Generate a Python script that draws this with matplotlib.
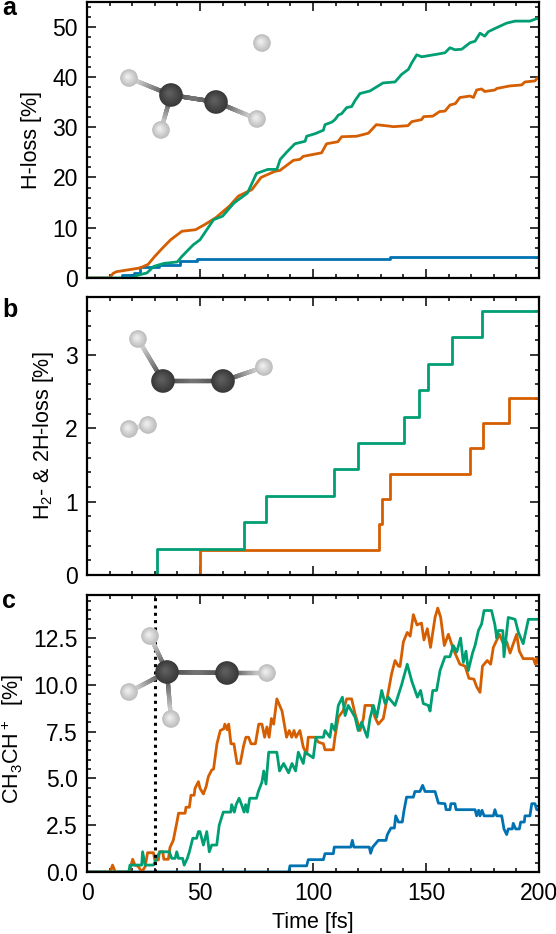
import numpy as np
from matplotlib import pyplot as plt
from matplotlib.collections import LineCollection
from matplotlib.patches import Circle
from matplotlib.ticker import MultipleLocator

plt.rcParams['font.family'] = ['Liberation Sans', 'DejaVu Sans']
plt.rcParams['mathtext.fontset'] = 'custom'
plt.rcParams['mathtext.rm'] = 'Liberation Sans'
plt.rcParams['mathtext.default'] = 'regular'

BLUE = '#0072B2'
ORANGE = '#D55E00'
GREEN = '#009E73'

# panel a: H-loss
a_blue_t = [0, 15.5, 21, 23.6, 32, 41, 48.7, 134, 200]
a_blue_v = [0, 0.5, 1, 2.1, 2.5, 3.3, 3.8, 4.1, 4.1]
a_orange_t = [0, 10, 11.5, 13, 23.5, 27, 30, 33.5, 37, 42, 48, 52, 57, 63, 67, 73, 77, 83, 85.4, 91.3, 94.2, 95.7, 103.8, 106,
              111, 112.7, 119.3, 124.5, 128, 134, 135.5, 142, 143.7, 148, 149, 153, 156, 158.4, 160.6, 163, 165,
              169.5, 171, 172.4, 174.6, 176, 180.5, 181.3, 187, 192.3, 193.8, 198.2, 199.3, 200]
a_orange_v = [0, 0, 0.9, 1.25, 2, 2.7, 4.3, 6, 7.6, 9.3, 9.6, 10.6, 12, 14.3, 16.3, 17.6, 20, 21.2, 21.4, 23.4, 23.6, 24.2, 24.9, 26.7,
              27.1, 28.1, 28.2, 28.8, 30.5, 30.2, 30.1, 30.3, 31.1, 31.5, 32.1, 32.2, 33.1, 33.2, 34.4, 34.7, 35.9,
              36.2, 35.9, 37.4, 37.6, 37.1, 37.4, 37.7, 38.2, 38.4, 39, 39.2, 39.8, 39.8]
a_green_t = [0, 20, 22, 26.5, 29.5, 34, 40, 42, 47, 50, 53, 56, 60, 65, 71, 75, 80, 84, 85.5, 88.3, 92, 96.5, 97.2, 100.9,
             104.6, 105.3, 108.3, 109.7, 111.2, 112.7, 114.9, 117.1, 118.6, 120.8, 125.2, 131, 136.3, 139.2, 142.2,
             143.7, 145.9, 148.1, 154.7, 158.4, 160.6, 162.8, 165.8, 169.5, 171.7, 173.9, 176, 177.6, 181.3, 185.7,
             189.4, 196, 199, 200]
a_green_v = [0, 0, 0.5, 1, 2.3, 2.9, 3.2, 4.3, 6.6, 7.6, 9.6, 11.6, 12.3, 14.9, 16.9, 20.8, 21.6, 21.6, 23.6, 25, 26.7, 27.2, 28.2, 28.7,
             29.4, 30.5, 31, 31.5, 32.4, 32.7, 33.9, 34.1, 35.3, 36.7, 37.2, 38.8, 39, 40.5, 41.5,
             42.8, 44.4, 44, 44.5, 44.8, 45.8, 45.4, 45.5, 46.8, 47.1, 48.7, 48.1, 49, 49.8, 50.7,
             51.1, 51.1, 51.6, 51.6]

# panel b: H2- & 2H-loss
b_orange_t = [0, 50, 129, 130.4, 134, 169.5, 175, 186.9, 200]
b_orange_v = [0, 0.34, 0.69, 1.04, 1.38, 1.73, 2.07, 2.41, 2.41]
b_green_t = [0, 31, 69.6, 79.2, 109.3, 120, 140.3, 147, 151, 161.7, 174.6, 200]
b_green_v = [0, 0.36, 0.72, 1.08, 1.44, 1.8, 2.16, 2.52, 2.88, 3.24, 3.6, 3.6]

# panel c: CH3CH+
c_blue_t = [0, 89.3, 89.8, 97.2, 97.9, 104.6, 105.3, 109, 109.4, 116.7, 117.4, 118.1, 124.9, 125.5, 126.4, 128.9, 132.3,
            132.9, 134.5, 136, 136.6, 137.8, 139.5, 140.3, 141.4, 144.4, 145.1, 147.3, 148.5, 149.6, 154, 155.5,
            158.4, 158.9, 160.6, 161, 162.8, 163.3, 171.7, 172.4, 173.3, 173.9, 174.8, 175.7, 179.8, 180.5, 181.3,
            183.5, 184.5, 185.7, 186.4, 188.2, 188.6, 189.7, 191.3, 191.9, 193.5, 193.8, 196, 196.8, 198.2, 199, 200]
c_blue_v = [0, 0, 0.33, 0.33, 0.66, 0.66, 0.98, 0.98, 1.33, 1.33, 1.69, 1.33, 1.33, 1, 1.33, 1.69, 1.69,
            2, 2.35, 2.35, 3, 2.67, 2.67, 3.3, 4, 4, 4.3, 4.3, 4.63, 4.3, 4.3, 3.68,
            3.65, 3.33, 3.33, 3.65, 3.65, 3.33, 3.33, 3, 3.3, 3, 3.3, 3, 3, 3.33, 3,
            3, 2.3, 2, 2.3, 2.3, 2.6, 2.3, 2.3, 2.67, 2.67, 3, 3, 3.65, 3.65, 3.33, 3.33]
c_orange_t = [0, 10.3, 11.3, 12.5, 18.7, 20.2, 21.2, 22.7, 24.2, 25.7, 26.8, 29.4, 30, 31.6, 32, 33.5, 34, 36, 36.7, 38.2,
              40, 40.5, 43.4, 43.8, 45.3, 46, 47.4, 47.8, 49.3, 50, 51.5, 52.7, 53.7, 55.2, 56, 57.5, 59, 60.5, 61, 62,
              62.7, 63.7, 65, 66.4, 67.8, 69.3, 70.3, 71.5, 72.6, 74.5, 76, 77.4, 78.6, 79.6, 80.6, 81.6, 82.6, 84,
              86.3, 88.3, 89.5, 90.6, 91.6, 92.5, 94.2, 95.7, 97.2, 97.9, 100.9, 102.4, 104.6, 105.3, 109, 109.7,
              111.2, 113.4, 114.9, 117.1, 118.6, 120.8, 122.3, 123, 126, 127.4, 128.9, 131.1, 132.6, 134.8, 136.3,
              137.8, 138.5, 140, 141.7, 143, 144.4, 146, 148, 149.1, 150.6, 152, 154, 155.2, 156.5, 158.1, 159.9,
              162.1, 165, 167.3, 169, 171.2, 172.4, 173.9, 175, 177.1, 178.6, 179.8, 182.5, 184.2, 185.7, 187.2,
              190.1, 191.3, 193, 197.5, 198.4, 199, 200]
c_orange_v = [0, 0, 0.37, 0, 0, 0.68, 0.37, 0.3, 0, 0.28, 1.03, 1.03, 0.64, 0.64, 1.08, 1.08, 0.68, 0.68, 1.3, 1.7,
              2.8, 3.14, 3.14, 3.46, 3.46, 4.1, 4.1, 4.47, 4.83, 4.47, 4.17, 4.56, 5.1, 5.45, 5.5, 6.85, 7.56, 7.65, 7.9, 7.6,
              7.9, 6.85, 6.85, 5.8, 5.8, 6.75, 7.2, 7.2, 6.85, 6.85, 7.9, 7.9, 7.2, 7.75, 7.2, 8.2, 7.9, 9.25,
              8.6, 7.2, 7.56, 7.2, 7.56, 7.2, 7.56, 6.67, 6.3, 7.2, 7.2, 6.94, 6.85, 6.53, 6.53, 7.2,
              8.27, 8.63, 9.25, 9.25, 8.45, 7.56, 8.2, 8.9, 8.9, 8.27, 7.9, 8.2, 9.16, 10.6, 11.3,
              11, 10.98, 12.3, 12.8, 12.6, 13.75, 13.2, 13.3, 12.4, 13, 12, 13.6, 14.1, 13.6, 12.1, 12.7,
              11.9, 11.1, 11, 10.35, 10.3, 9.9, 9.6, 11, 11.3, 11.1, 12, 12.7, 12.2, 12.3, 11.7,
              12.7, 11.8, 11.4, 11.4, 11.1, 11.4, 11.1]
c_green_t = [0, 18.5, 19, 24.2, 24.6, 25.7, 29.4, 30.8, 32.3, 36.4, 37.5, 39, 39.7, 40.5, 42.3, 43, 44.4, 45.3, 46.8,
             48.5, 49.3, 50, 51.5, 53, 54.1, 55.2, 57.4, 58.5, 60.3, 63.6, 64, 65.2, 66, 67.3, 68.4, 69.5, 70.2, 71,
             72, 75, 75.8, 77.4, 78.2, 79.2, 80.4, 84, 85.2, 87, 89.2, 90.7, 92.3, 93.5, 95.7, 96.5, 100.1, 101.3,
             104.6, 105.3, 107.5, 108.3, 109.7, 111.2, 113, 114.2, 115.6, 118.6, 120, 121.5, 124, 125.2, 126.7,
             128.2, 130.4, 131.9, 133.3, 136.3, 139.2, 141.7, 143.7, 146.2, 147.6, 148.8, 151, 151.8, 153, 154.7,
             156.2, 158.4, 160.6, 162.1, 163.6, 165.3, 166.5, 167.7, 168.7, 170.6, 171.7, 173.2, 174.6, 175.7,
             179, 180.5, 181.3, 182, 184, 184.5, 186.4, 189.4, 190.9, 193, 195.3, 198.2, 200]
c_green_v = [0, 0, 0.37, 0.37, 1.08, 0.37, 0.37, 0.73, 1.08, 1.08, 0.73, 0.73, 1.08, 0.73, 0.73, 0.37, 0.73, 1.08, 1.8,
             1.8, 2.16, 2.16, 1.44, 2.16, 1.08, 1.44, 1.44, 2.5, 3.2, 3.2, 3.6, 3.2, 3.6, 3.94, 3.6, 3.2, 3.6, 3.2,
             3.94, 3.94, 4.3, 4.8, 5.4, 4.7, 6.4, 6.4, 5.4, 5.8, 5.3, 5.8, 5.4, 6.4, 5.8, 6.4, 6.1, 7.2,
             7.2, 7.56, 7.2, 7.9, 7.56, 8.9, 9.34, 8.36, 8.9, 8.27, 7.56, 8, 7.2, 8.2, 8.9,
             8.27, 9.7, 9, 9.34, 8.9, 10, 11.1, 10.2, 9.34, 9.7, 9, 8.9, 8.6, 9.7, 9.7,
             10.76, 11.5, 11.5, 12.1, 11.75, 12.5, 11.2, 11.8, 10.76, 11.7, 12.1, 12.9, 13.25, 13.97,
             13.97, 13.2, 12.5, 12.9, 12.9, 11.5, 13.6, 13.5, 12.8, 12.2, 13.5, 13.5, 13.5]

# ball and stick pictures, pixel positions of the atoms (kind, x, y)
mol_a = [('H', 129, 78), ('C', 171, 95), ('C', 216, 102), ('H', 257, 119), ('H', 161, 130), ('H', 262, 43)]
bonds_a = [(1, 0), (1, 2), (2, 3), (1, 4)]
mol_b = [('H', 138, 339), ('C', 163, 381), ('C', 223, 381), ('H', 264, 367), ('H', 129, 429), ('H', 148, 425)]
bonds_b = [(1, 0), (1, 2), (2, 3), (4, 5)]
mol_c = [('C', 167, 672), ('C', 227, 673), ('H', 267, 673), ('H', 150, 636), ('H', 129, 692), ('H', 171, 719)]
bonds_c = [(0, 1), (1, 2), (0, 3), (0, 4), (0, 5)]

W, H = 556, 934
LEFT, RIGHT = 87, 539


def make_axes(fig, top, bottom):
    return fig.add_axes([LEFT / W, 1 - bottom / H, (RIGHT - LEFT) / W, (bottom - top) / H])


def style_axes(ax, ymax, y_major, y_minor):
    ax.set_xlim(0, 200)
    ax.set_ylim(0, ymax)
    ax.xaxis.set_major_locator(MultipleLocator(50))
    ax.xaxis.set_minor_locator(MultipleLocator(10))
    ax.yaxis.set_major_locator(MultipleLocator(y_major))
    ax.yaxis.set_minor_locator(MultipleLocator(y_minor))
    ax.tick_params(which='both', direction='in', top=True, right=True, width=1.1, labelsize=16.5)
    ax.tick_params(axis='x', pad=7)
    ax.tick_params(axis='y', pad=6.5)
    ax.tick_params(which='major', length=6.5)
    ax.tick_params(which='minor', length=3.2)
    for spine in ax.spines.values():
        spine.set_linewidth(1.6)


def draw_bond(ax, p0, p1, c0, c1):
    n = 24
    xs = np.linspace(p0[0], p1[0], n + 1)
    ys = np.linspace(p0[1], p1[1], n + 1)
    segs = [[(xs[i], ys[i]), (xs[i + 1], ys[i + 1])] for i in range(n)]
    colors = [np.array(c0) + (np.array(c1) - np.array(c0)) * i / (n - 1) for i in range(n)]
    ax.add_collection(LineCollection(segs, colors=colors, linewidths=3.0, capstyle='projecting'))


def draw_atom(ax, x, y, kind):
    if kind == 'C':
        r, edge, mid = 11.8, 0.22, 0.36
    else:
        r, edge, mid = 8.8, 0.74, 0.92
    n = 14
    for i in range(n):
        f = i / (n - 1)
        shade = edge + (mid - edge) * f
        ax.add_patch(Circle((x - 0.15 * r * f, y - 0.15 * r * f), r * (1 - 0.8 * f),
                            color=str(shade), lw=0, zorder=3))


def draw_molecule(ax, atoms, bonds):
    for i, j in bonds:
        a, b = atoms[i], atoms[j]
        if a[0] == 'C' and b[0] == 'C':
            c0, c1 = (0.25, 0.25, 0.25), (0.45, 0.45, 0.45)
            mx, my = (a[1] + b[1]) / 2, (a[2] + b[2]) / 2
            draw_bond(ax, a[1:], (mx, my), c0, c1)
            draw_bond(ax, b[1:], (mx, my), c0, c1)
        elif a[0] == 'H' and b[0] == 'H':
            draw_bond(ax, a[1:], b[1:], (0.85, 0.85, 0.85), (0.85, 0.85, 0.85))
        else:
            draw_bond(ax, a[1:], b[1:], (0.2, 0.2, 0.2), (0.9, 0.9, 0.9))
    for kind, x, y in atoms:
        draw_atom(ax, x, y, kind)


fig = plt.figure(figsize=(W / 100, H / 100), dpi=100)

ax_a = make_axes(fig, 1.5, 278)
ax_b = make_axes(fig, 297, 575)
ax_c = make_axes(fig, 595, 872)

lw = 2.0
ax_a.plot(a_blue_t, a_blue_v, color=BLUE, lw=lw, drawstyle='steps-post')
ax_a.plot(a_orange_t, a_orange_v, color=ORANGE, lw=lw)
ax_a.plot(a_green_t, a_green_v, color=GREEN, lw=lw)

ax_b.plot(b_orange_t, b_orange_v, color=ORANGE, lw=lw, drawstyle='steps-post')
ax_b.plot(b_green_t, b_green_v, color=GREEN, lw=lw, drawstyle='steps-post')

ax_c.plot(c_blue_t, c_blue_v, color=BLUE, lw=lw)
ax_c.plot(c_orange_t, c_orange_v, color=ORANGE, lw=lw)
ax_c.plot(c_green_t, c_green_v, color=GREEN, lw=lw)
ax_c.axvline(30, color='black', lw=2.2, linestyle=(0, (1, 1.4)))

style_axes(ax_a, 55, 10, 2)
style_axes(ax_b, 3.79, 1, 0.2)
style_axes(ax_c, 14.8, 2.5, 0.5)

ax_a.tick_params(labelbottom=False)
ax_b.tick_params(labelbottom=False)
ax_c.yaxis.set_major_formatter(lambda v, pos: f"{v:.1f}")

ax_a.set_ylabel("H-loss [%]", fontsize=15.5)
ax_b.set_ylabel("H$_2$- & 2H-loss [%]", fontsize=15.5)
ax_c.set_ylabel("CH$_3$CH$^+$  [%]", fontsize=15.5)
ax_c.set_xlabel("Time [fs]", fontsize=15.5, labelpad=5)
ax_a.yaxis.set_label_coords((42 - LEFT) / (RIGHT - LEFT), 0.5)
ax_b.yaxis.set_label_coords((56 - LEFT) / (RIGHT - LEFT), 0.5)
ax_c.yaxis.set_label_coords((26 - LEFT) / (RIGHT - LEFT), 0.48)

# overlay in pixel coordinates for the molecule pictures and panel letters
over = fig.add_axes([0, 0, 1, 1], facecolor='none')
over.set_xlim(0, W)
over.set_ylim(H, 0)
over.axis('off')
draw_molecule(over, mol_a, bonds_a)
draw_molecule(over, mol_b, bonds_b)
draw_molecule(over, mol_c, bonds_c)

for letter, x, y in [('a', 2, 15), ('b', 2, 317), ('c', 2, 608)]:
    over.text(x, y, letter, fontsize=18, fontweight='bold', ha='left', va='baseline')

fig.savefig('out.png', dpi=100)
plt.close(fig)
